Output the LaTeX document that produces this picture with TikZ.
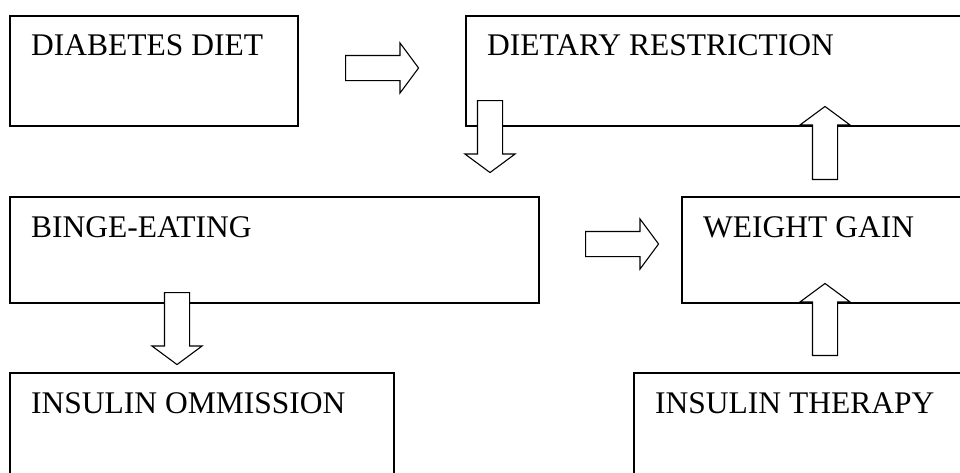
\documentclass[tikz,border=0pt]{standalone}
\usepackage{fontspec}
\setmainfont{Liberation Serif}
\usetikzlibrary{shapes.arrows,calc}
\begin{document}
\begin{tikzpicture}[x=1pt,y=-1pt,
  box/.style={draw,line width=1.5pt,rectangle,anchor=north west,inner sep=0pt},
  lbl/.style={anchor=base west,inner sep=0pt,font=\fontsize{31.5}{36}\selectfont},
  barrow/.style={draw,fill=white,line width=1.1pt,single arrow,inner xsep=0pt,inner ysep=12pt,
    single arrow head extend=12.5pt,single arrow tip angle=107,anchor=tail}]
\useasboundingbox (0,0) rectangle (960,472);
\clip (0,0) rectangle (960,472);
% boxes
\node[box,minimum width=288pt,minimum height=110pt] (dd) at (9,15) {};
\node[box,minimum width=520pt,minimum height=110pt] (dr) at (465,15) {};
\node[box,minimum width=529pt,minimum height=106pt] (be) at (9,196) {};
\node[box,minimum width=300pt,minimum height=106pt] (wg) at (681,196) {};
\node[box,minimum width=384pt,minimum height=120pt] (io) at (9,372) {};
\node[box,minimum width=350pt,minimum height=120pt] (it) at (633,372) {};
% labels
\node[lbl] (ddl) at ($(dd.north west)+(22,40)$) {DIABETES DIET};
\node[lbl] (drl) at ($(dr.north west)+(22,40)$) {DIETARY RESTRICTION};
\node[lbl] (bel) at ($(be.north west)+(22,41)$) {BINGE-EATING};
\node[lbl] (wgl) at ($(wg.north west)+(22,41)$) {WEIGHT GAIN};
\node[lbl] (iol) at ($(io.north west)+(22,41)$) {INSULIN OMMISSION};
\node[lbl] (itl) at ($(it.north west)+(22,41)$) {INSULIN THERAPY};
% block arrows
\node[barrow,minimum height=73pt] (a1) at (345,68) {};
\node[barrow,minimum height=72pt,rotate=-90] (a2) at (490,100) {};
\node[barrow,minimum height=73pt] (a3) at (585,244) {};
\node[barrow,minimum height=73pt,rotate=90] (a4) at (825,180) {};
\node[barrow,minimum height=72pt,rotate=90] (a5) at (825,356) {};
\node[barrow,minimum height=72pt,rotate=-90] (a6) at (177,292) {};
\end{tikzpicture}
\end{document}
